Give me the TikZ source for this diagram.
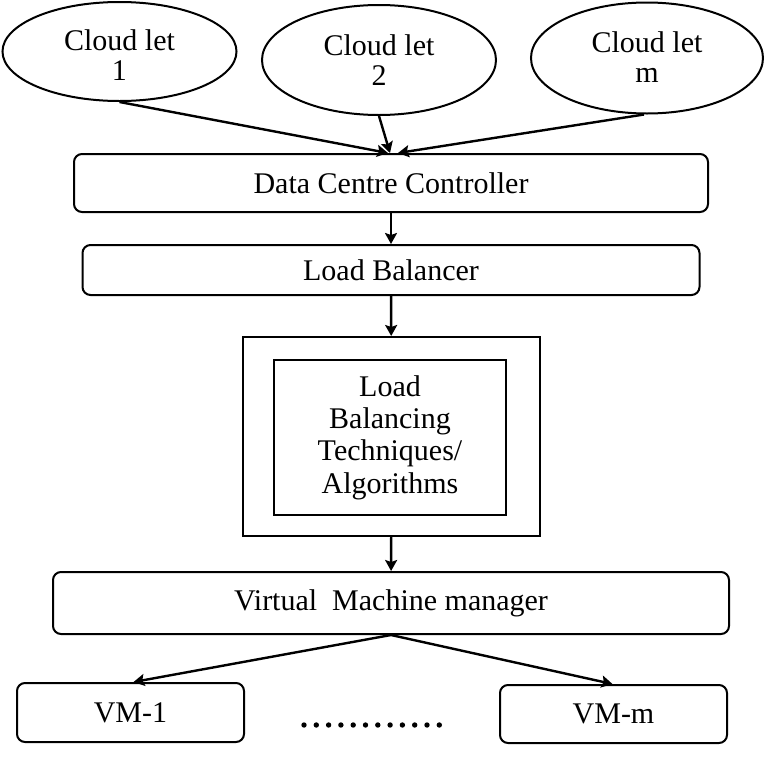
\documentclass[tikz,border=0pt]{standalone}
\usepackage{fontspec}
\setmainfont{Liberation Serif}
\usetikzlibrary{shapes.geometric,arrows.meta}

% two lines, first baseline raised by #2 above the node centre
\newcommand\cloudtext[2]{\raisebox{#2}[0pt][0pt]{\begin{tabular}[t]{@{}c@{}}Cloud let\\[-1.5pt]#1\end{tabular}}}

\tikzset{
  cloudlet/.style={ellipse,draw,line width=2pt,inner sep=0pt,
    minimum width=234pt,minimum height=100pt},
  layer/.style={rectangle,draw,line width=2pt,rounded corners=8pt},
  plain/.style={rectangle,draw,line width=2pt,inner sep=0pt},
  flow/.style={line width=2.4pt,-{Stealth[length=11pt,width=12pt,inset=2pt]}}
}

\begin{document}
\begin{tikzpicture}[x=1pt,y=-1pt,font=\fontsize{30}{32.3}\selectfont]
                \useasboundingbox (0,0) rectangle (764,758);

                \node (c1) at (119.5,51.5) [cloudlet,minimum height=99pt] {\cloudtext{1}{1.5pt}};
                \node (c2) at (379,60) [cloudlet,minimum height=110pt] {\cloudtext{2}{5pt}};
                \node (cm) at (647,58) [cloudlet,minimum width=232pt,minimum height=111pt] {\cloudtext{m}{6pt}};

                \node (dcc) at (391,183) [layer,minimum width=634pt,minimum height=58pt] {Data Centre Controller};
                \node (lb) at (391,270) [layer,minimum width=617pt,minimum height=50pt] {Load Balancer};

                \node (outer) at (391.5,436.5) [plain,minimum width=297pt,minimum height=199pt] {};
                \node (algo) at (390,437.5) [plain,minimum width=232pt,minimum height=155pt,align=center]
                    {Load\\Balancing\\Techniques/\\Algorithms};

                \node (vmm) at (391,603) [layer,minimum width=676pt,minimum height=62pt] {Virtual\hspace{0.5em}Machine manager};

                \node (vm1) at (130.5,712.5) [layer,minimum width=227pt,minimum height=59pt] {VM-1};
                \node (vmm2) at (613.5,714) [layer,minimum width=227pt,minimum height=58pt] {VM-m};

                \draw[flow] (c1.south) -- ([xshift=-3pt]dcc.north);
                \draw[flow] (c2.south) -- ([xshift=-1pt]dcc.north);
                \draw[flow] ([xshift=-3pt]cm.south) -- ([xshift=7pt]dcc.north);
                \draw[flow] (dcc) -- (lb);
                \draw[flow] (lb) -- (outer);
                \draw[flow] (outer) -- (vmm);
                \draw[flow] (vmm.south) -- ([xshift=3pt]vm1.north);
                \draw[flow] (vmm.south) -- ([xshift=-1pt]vmm2.north);

                % dots between the two machines
                \foreach \i in {0,...,11}
                    \fill (304+\i*12.3,725) circle (2.7pt);

            \end{tikzpicture}
\end{document}
